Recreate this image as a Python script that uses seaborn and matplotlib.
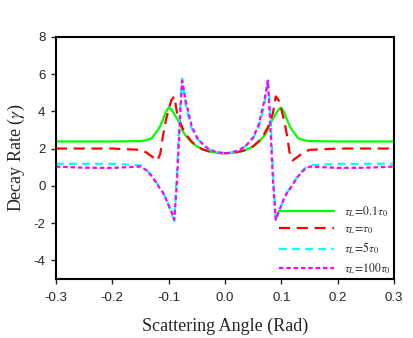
import matplotlib
matplotlib.use("Agg")
import matplotlib.pyplot as plt
import seaborn as sns
import pandas as pd

# scattering angle (rad)
angle = [-0.30, -0.25, -0.20, -0.15, -0.14, -0.13, -0.12, -0.115, -0.11, -0.105,
         -0.10, -0.095, -0.09, -0.085, -0.08, -0.076, -0.07, -0.06, -0.05, -0.04,
         -0.03, -0.02, -0.01, 0.00, 0.01, 0.02, 0.03, 0.04, 0.05, 0.06, 0.07,
         0.076, 0.08, 0.085, 0.09, 0.095, 0.10, 0.105, 0.11, 0.115, 0.12, 0.13,
         0.14, 0.15, 0.20, 0.25, 0.30]

# decay rate for each laser pulse duration
tau_01 = [2.38, 2.38, 2.38, 2.40, 2.45, 2.55, 2.95, 3.20, 3.55, 3.95,
          4.20, 4.10, 3.85, 3.60, 3.30, 3.00, 2.70, 2.35, 2.12, 1.96,
          1.86, 1.80, 1.76, 1.75, 1.76, 1.80, 1.86, 1.96, 2.12, 2.35, 2.70,
          3.00, 3.30, 3.60, 3.85, 4.10, 4.20, 3.95, 3.55, 3.20, 2.95, 2.55,
          2.45, 2.40, 2.38, 2.38, 2.38]
tau_1 = [2.00, 2.00, 2.00, 1.93, 1.80, 1.58, 1.36, 1.70, 2.70, 3.50,
         4.10, 4.60, 4.80, 3.90, 3.45, 3.15, 2.80, 2.40, 2.12, 1.96,
         1.86, 1.80, 1.76, 1.75, 1.76, 1.80, 1.86, 1.96, 2.12, 2.40, 2.80,
         3.15, 3.45, 3.90, 4.80, 4.60, 4.10, 3.50, 2.70, 1.70, 1.36, 1.58,
         1.80, 1.93, 2.00, 2.00, 2.00]
tau_5 = [1.18, 1.18, 1.18, 1.10, 0.90, 0.55, 0.10, -0.15, -0.35, -0.65,
         -1.05, -1.45, -1.90, 0.90, 4.20, 5.75, 4.35, 3.15, 2.55, 2.22,
         1.98, 1.85, 1.78, 1.75, 1.78, 1.85, 1.98, 2.22, 2.55, 3.15, 4.35,
         5.75, 4.20, 0.90, -1.90, -1.45, -1.05, -0.65, -0.35, -0.15, 0.10, 0.55,
         0.90, 1.10, 1.18, 1.18, 1.18]
tau_100 = [1.03, 0.97, 0.96, 1.03, 0.85, 0.52, 0.08, -0.17, -0.38, -0.68,
           -1.05, -1.40, -1.82, 0.30, 3.50, 5.65, 4.60, 3.30, 2.60, 2.25,
           2.00, 1.86, 1.78, 1.75, 1.78, 1.86, 2.00, 2.25, 2.60, 3.30, 4.60,
           5.65, 3.50, 0.30, -1.82, -1.40, -1.05, -0.68, -0.38, -0.17, 0.08, 0.52,
           0.85, 1.03, 0.96, 0.97, 1.03]

labels = [r"$\tau_L\!=\!0.1\tau_0$", r"$\tau_L\!=\!\tau_0$",
          r"$\tau_L\!=\!5\tau_0$", r"$\tau_L\!=\!100\tau_0$"]

sns.set_style("ticks")
plt.rcParams["font.family"] = ["Liberation Sans", "DejaVu Sans"]
plt.rcParams["mathtext.fontset"] = "stix"

df = pd.DataFrame({"angle": angle, "g01": tau_01, "g1": tau_1,
                   "g5": tau_5, "g100": tau_100})

fig = plt.figure(figsize=(4.14, 3.38), dpi=100)
ax = fig.add_axes([0.135, 0.175, 0.817, 0.716])

series = [("g01", "#00ff00", "-"),
          ("g1", "#ff0000", (0, (5, 3))),
          ("g5", "#00ffff", (0, (3.5, 2.4))),
          ("g100", "#ff00ff", (0, (2, 1.3)))]
for (col, color, ls), lab in zip(series, labels):
    sns.lineplot(data=df, x="angle", y=col, color=color, linestyle=ls,
                 linewidth=1.6, label=lab, ax=ax, sort=False)

ax.set_xlim(-0.3, 0.3)
ax.set_ylim(-5, 8)
ax.set_xticks([-0.3, -0.2, -0.1, 0.0, 0.1, 0.2, 0.3])
ax.set_xticklabels(["-0.3", "-0.2", "-0.1", "0.0", "0.1", "0.2", "0.3"])
ax.set_yticks([-4, -2, 0, 2, 4, 6, 8])
ax.set_yticklabels(["-4", "-2", "0", "2", "4", "6", "8"])
ax.tick_params(direction="out", length=3.5, width=1, labelsize=9.5,
               top=False, right=False)
ax.tick_params(axis="x", pad=6)
ax.tick_params(axis="y", pad=4)
for sp in ax.spines.values():
    sp.set_visible(True)
    sp.set_linewidth(1.5)
    sp.set_color("black")

ax.set_xlabel("Scattering Angle (Rad)", fontsize=13,
              family="Liberation Serif", labelpad=10)
ax.set_ylabel(r"Decay Rate ($\gamma$)", fontsize=13,
              family="Liberation Serif", labelpad=5)

ax.legend(loc="lower right", frameon=False, fontsize=8.5, handlelength=4.6,
          handletextpad=0.9, labelspacing=0.42, borderaxespad=0.05,
          borderpad=0.2)

fig.savefig("out.png", dpi=100)
plt.close(fig)
